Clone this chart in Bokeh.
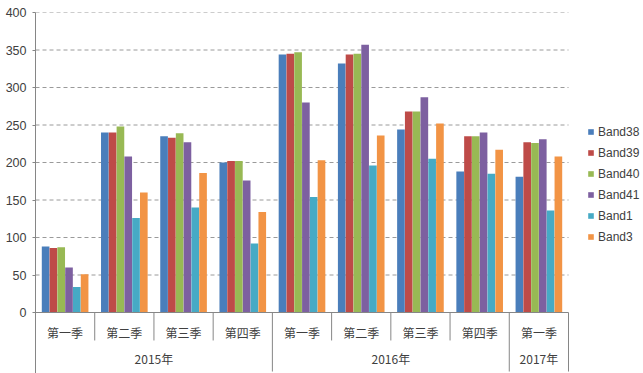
from bokeh.plotting import figure
from bokeh.models import Range1d, FixedTicker, Legend, LegendItem
from bokeh.core.properties import value
from bokeh.embed import file_html
from bokeh.resources import INLINE

# ---------------- data ----------------
years = ["2015年", "2016年", "2017年"]
quarters_per_year = [4, 4, 1]
quarters = ["第一季", "第二季", "第三季", "第四季",
            "第一季", "第二季", "第三季", "第四季",
            "第一季"]
bands = ["Band38", "Band39", "Band40", "Band41", "Band1", "Band3"]
band38 = [88, 240, 235, 200, 344, 332, 244, 188, 181]
band39 = [86, 240, 233, 202, 345, 344, 268, 235, 227]
band40 = [87, 248, 239, 202, 347, 345, 268, 235, 226]
band41 = [60, 208, 227, 176, 280, 357, 287, 240, 231]
band1 = [34, 126, 140, 92, 154, 196, 205, 185, 136]
band3 = [51, 160, 186, 134, 203, 236, 252, 217, 208]
y_ticks = [0, 50, 100, 150, 200, 250, 300, 350, 400]

series = [band38, band39, band40, band41, band1, band3]
colors = ["#4A7EBB", "#BE4B48", "#98B954", "#7D60A0", "#46AAC5", "#F29445"]

# ---------------- layout ----------------
n = len(quarters)
W, H = 643, 373
LEFT, TOP = 35, 12
cat_px = 533.0              # pixel width covered by the categories
frame_w = W - LEFT
frame_h = H - TOP
x_end = n * frame_w / cat_px
y_top = 400
px_per_unit = 300.0 / 400.0
y_start = -(frame_h - 300) / px_per_unit

AXIS_COLOR = "#868686"
TEXT_COLOR = "#404040"
CJK = value("Noto Sans CJK SC")

p = figure(width=W, height=H,
           x_range=Range1d(0, x_end), y_range=Range1d(y_start, y_top),
           output_backend="svg", toolbar_location=None,
           min_border_left=LEFT, min_border_top=TOP,
           min_border_right=0, min_border_bottom=0,
           x_axis_location=None)
p.outline_line_color = None
p.xgrid.visible = False
p.ygrid.visible = False
p.background_fill_color = "white"

ax = p.yaxis[0]
ax.ticker = FixedTicker(ticks=y_ticks)
ax.axis_line_color = AXIS_COLOR
ax.major_tick_line_color = AXIS_COLOR
ax.major_tick_out = 3
ax.major_tick_in = 0
ax.minor_tick_line_color = None
ax.major_label_standoff = 6
ax.major_label_text_font = "Liberation Sans"
ax.major_label_text_font_size = "12.5px"
ax.major_label_text_color = TEXT_COLOR

# gridlines (dashed) spanning only the category area
grid_vals = y_ticks[1:]
p.segment(x0=[0] * len(grid_vals), x1=[n] * len(grid_vals),
          y0=grid_vals, y1=grid_vals,
          line_color="#9a9a9a", line_width=1, line_dash="4 3")

# bars
group_w = 0.79
bw = group_w / len(bands)
items = []
for j, (name, vals, col) in enumerate(zip(bands, series, colors)):
    xs = [i + 0.5 + (j - (len(bands) - 1) / 2) * bw for i in range(n)]
    r = p.vbar(x=xs, top=vals, bottom=0, width=bw * 0.98,
               fill_color=col, line_color=None)
    items.append(LegendItem(label=name, renderers=[r]))

# category axis baseline
p.segment(x0=[0], x1=[n], y0=[0], y1=[0], line_color=AXIS_COLOR, line_width=1)

# separators
year_bounds = []
acc = 0
for k in quarters_per_year:
    acc += k
    year_bounds.append(acc)
q_bounds = [b for b in range(1, n) if b not in year_bounds]
q_sep_bottom = -37.3
year_sep_bottom = -78.7
p.segment(x0=q_bounds, x1=q_bounds, y0=[0] * len(q_bounds),
          y1=[q_sep_bottom] * len(q_bounds), line_color=AXIS_COLOR, line_width=1)
p.segment(x0=year_bounds, x1=year_bounds, y0=[0] * len(year_bounds),
          y1=[year_sep_bottom] * len(year_bounds), line_color=AXIS_COLOR, line_width=1)

# category labels
p.text(x=[i + 0.5 for i in range(n)], y=[-26.0] * n, text=quarters,
       text_align="center", text_baseline="middle",
       text_font=CJK, text_font_size="12px", text_color=TEXT_COLOR)
year_centers = []
start = 0
for k in quarters_per_year:
    year_centers.append(start + k / 2)
    start += k
p.text(x=year_centers, y=[-61.5] * len(years), text=years,
       text_align="center", text_baseline="middle",
       text_font=CJK, text_font_size="12px", text_color=TEXT_COLOR)

# legend (position in frame screen units, from bottom-left of frame)
legend_top_from_frame_top = 131.7 - 7 - TOP
legend_h = 6 * 14 + 5 * 7
legend = Legend(items=items,
                location=(587 - LEFT, frame_h - legend_top_from_frame_top - legend_h))
legend.glyph_width = 7
legend.glyph_height = 7
legend.label_height = 14
legend.spacing = 7
legend.padding = 0
legend.margin = 0
legend.label_standoff = 4
legend.label_text_font = "Liberation Sans"
legend.label_text_font_size = "12px"
legend.label_text_color = TEXT_COLOR
legend.background_fill_alpha = 0
legend.border_line_color = None
p.add_layout(legend)

open("out.html", "w").write(file_html(p, INLINE))
